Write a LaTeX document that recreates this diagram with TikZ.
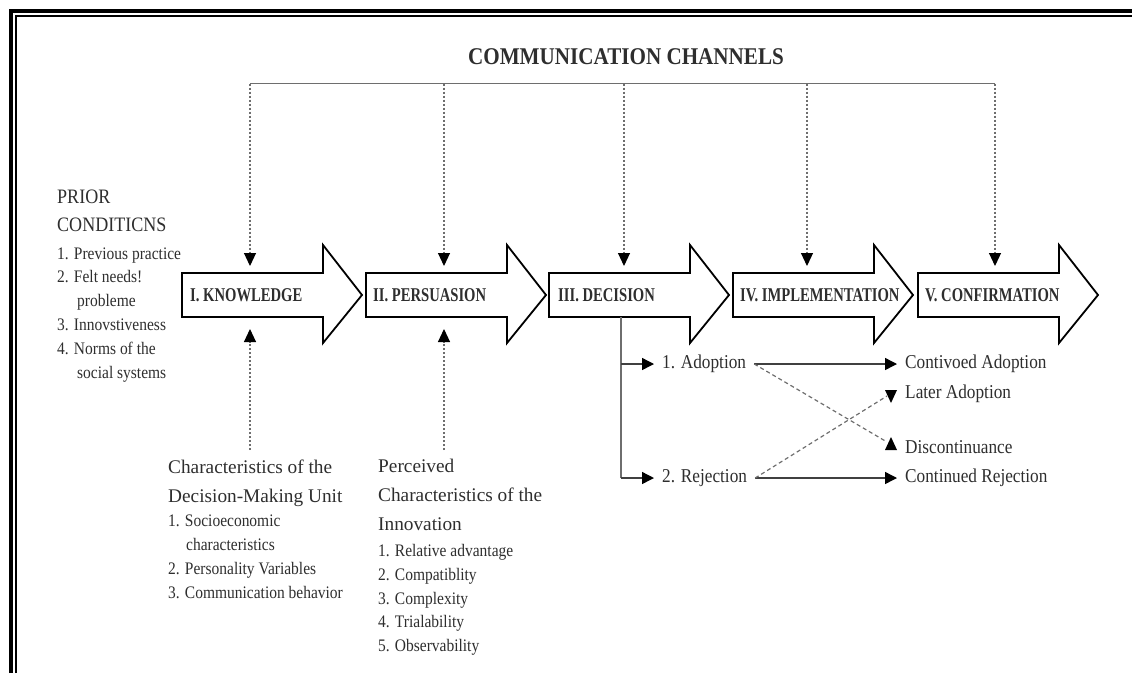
\documentclass[tikz,border=0pt]{standalone}
\usepackage{fontspec}
\setmainfont{Liberation Serif}
\newfontfamily\labfont[FakeStretch=0.75]{Liberation Serif}
\newfontfamily\titfont[FakeStretch=0.88]{Liberation Serif}
\newfontfamily\listfont[FakeStretch=0.88]{Liberation Serif}
\usetikzlibrary{arrows.meta}
\definecolor{ink}{HTML}{2E2E2E}
\definecolor{wire}{HTML}{6E6E6E}
\tikzset{
  blockarrow/.style={draw=black, line width=1.8pt, fill=white, line join=miter},
  stagelabel/.style={anchor=west, inner sep=0pt, text=ink,
    font=\labfont\bfseries\fontsize{19.5}{22}\selectfont},
  chanline/.style={draw=wire, line width=1.8pt},
  chanarrow/.style={draw=wire, line width=1.1pt, dash pattern=on 2pt off 2pt,
    -{Triangle[width=12pt,length=13pt,color=black]}},
  treeline/.style={draw=wire, line width=1.4pt},
  treearrow/.style={draw=black!75, line width=1.4pt,
    -{Triangle[width=12pt,length=12pt,color=black]}},
  diagline/.style={draw=wire, line width=1.2pt, dash pattern=on 4pt off 3pt},
  headtext/.style={anchor=base west, inner sep=0pt, align=left, text=ink,
    font=\fontsize{19.3}{29}\selectfont},
  listtext/.style={anchor=base west, inner sep=0pt, align=left, text=ink,
    font=\listfont\fontsize{17.6}{23.8}\selectfont},
  outcome/.style={anchor=west, inner ysep=0pt, inner xsep=8pt, text=ink,
    text height=12pt, text depth=4pt, font=\listfont\fontsize{19.6}{20}\selectfont},
}
\newcommand{\stagearrow}[1]{%
  \draw[blockarrow] (#1,273) -- (#1+141,273) -- (#1+141,245) -- (#1+180,295)
    -- (#1+141,343) -- (#1+141,317) -- (#1,317) -- cycle;}
\begin{document}
\begin{tikzpicture}[x=1pt,y=-1pt]
\useasboundingbox (0,0) rectangle (1132,673);
% frame
\draw[line width=3.7pt, line join=miter] (10.9,673) -- (10.9,10.9) -- (1132,10.9);
\draw[line width=1.7pt, line join=miter] (15.8,673) -- (15.8,15.8) -- (1132,15.8);

% title
\node[font=\titfont\bfseries\fontsize{24}{28}\selectfont, text=ink] (title) at (626,57) {COMMUNICATION CHANNELS};

% stage arrows
\stagearrow{182}
\stagearrow{366}
\stagearrow{549}
\stagearrow{733}
\stagearrow{918}
\node[stagelabel] (know) at (190,295) {I. KNOWLEDGE};
\node[stagelabel] (pers) at (373,295) {II. PERSUASION};
\node[stagelabel] (deci) at (558,295) {III. DECISION};
\node[stagelabel] (impl) at (740,295) {IV. IMPLEMENTATION};
\node[stagelabel] (conf) at (925,295) {V. CONFIRMATION};

% channel connectors
\coordinate (cK) at (250,83.5);
\coordinate (cP) at (444,83.5);
\coordinate (cD) at (624,83.5);
\coordinate (cI) at (807,83.5);
\coordinate (cC) at (995,83.5);
\coordinate (tK) at (250,266);
\coordinate (tP) at (444,266);
\coordinate (tD) at (624,266);
\coordinate (tI) at (807,266);
\coordinate (tC) at (995,266);
\draw[chanline] (cK) -- (cC);
\draw[chanarrow] (cK) -- (tK);
\draw[chanarrow] (cP) -- (tP);
\draw[chanarrow] (cD) -- (tD);
\draw[chanarrow] (cI) -- (tI);
\draw[chanarrow] (cC) -- (tC);

% prior conditions (anchor = baseline of the last line)
\node[headtext, font=\listfont\fontsize{20.5}{28}\selectfont] (priorhead) at (57,231.5) {PRIOR\\CONDITICNS};
\node[listtext] (priorlist) at (57,378) {1. Previous practice\\2. Felt needs!\\\hspace*{20pt}probleme\\3. Innovstiveness\\4. Norms of the\\\hspace*{20pt}social systems};

% decision-making unit
\node[headtext] (dmuhead) at (168,502.5) {Characteristics of the\\Decision-Making Unit};
\node[listtext] (dmulist) at (168,598) {1. Socioeconomic\\\hspace*{18pt}characteristics\\2. Personality Variables\\3. Communication behavior};
\coordinate (bK) at (250,450);
\coordinate (uK) at (250,329);
\draw[chanarrow] (bK) -- (uK);

% perceived characteristics
\node[headtext] (perhead) at (378,530.7) {Perceived\\Characteristics of the\\Innovation};
\node[listtext] (perlist) at (378,651.7) {1. Relative advantage\\2. Compatiblity\\3. Complexity\\4. Trialability\\5. Observability};
\coordinate (bP) at (444,450);
\coordinate (uP) at (444,329);
\draw[chanarrow] (bP) -- (uP);

% decision outcomes
\node[outcome] (adopt) at (654,364) {1. Adoption};
\node[outcome] (reject) at (654,478) {2. Rejection};
\node[outcome] (contad) at (897,364) {Contivoed Adoption};
\node[outcome] (later) at (897,394) {Later Adoption};
\node[outcome] (disc) at (897,449) {Discontinuance};
\node[outcome] (contrej) at (897,478) {Continued Rejection};

\coordinate (decB) at (621,317);
\coordinate (s1) at (621,364);
\coordinate (s2) at (621,478);
\draw[treeline] (decB) -- (s2);
\draw[treearrow] (s1) -- (adopt.west);
\draw[treearrow] (s2) -- (reject.west);
\draw[treearrow] (adopt.east) -- (contad.west);
\draw[treearrow] (reject.east) -- (contrej.west);

\coordinate (discTip) at (887,442);
\coordinate (laterTip) at (887,396);
\draw[diagline] (adopt.east) -- (discTip);
\draw[diagline] (reject.east) -- (laterTip);
\fill[black] (885,450) -- (897,450) -- (891,437) -- cycle;
\fill[black] (885,390) -- (897,390) -- (891,403) -- cycle;
\end{tikzpicture}
\end{document}
